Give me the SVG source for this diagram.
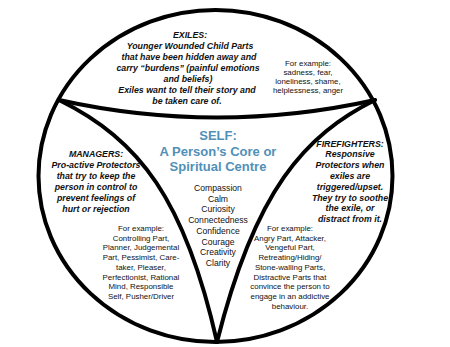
<svg xmlns="http://www.w3.org/2000/svg" width="450" height="347" viewBox="0 0 450 347">
<style>
text{font-family:"Liberation Sans",Arial,sans-serif;fill:#111;text-anchor:middle}
.h{font-size:8.8px;font-weight:bold;font-style:italic}
.r{font-size:7.9px}
.q{font-size:8.6px}
.s{font-size:13px;font-weight:bold;fill:#5190b7}
.ln{fill:none;stroke:#000;stroke-width:4;stroke-linecap:round;stroke-linejoin:round}
</style>
<rect width="450" height="347" fill="#fff"/>
<g id="connectors">
<ellipse class="ln" cx="215.5" cy="176" rx="177" ry="166"/>
<path class="ln" d="M59,100 Q217,135 375,100"/>
<path class="ln" d="M59,100 C140,140 185,200 217,342"/>
<path class="ln" d="M375,100 C305,135 255,190 217,342"/>
</g>
<g id="exiles">
<text class="h" x="190" y="38">EXILES:</text>
<text class="h" x="190" y="49">Younger Wounded Child Parts</text>
<text class="h" x="189" y="60">that have been hidden away and</text>
<text class="h" x="188" y="71">carry “burdens” (painful emotions</text>
<text class="h" x="188" y="82">and beliefs)</text>
<text class="h" x="187" y="93">Exiles want to tell their story and</text>
<text class="h" x="187" y="104">be taken care of.</text>
<text class="r" x="308" y="66">For example:</text>
<text class="r" x="308" y="75">sadness, fear,</text>
<text class="r" x="308" y="84">loneliness, shame,</text>
<text class="r" x="308" y="93">helplessness, anger</text>
</g>
<g id="managers">
<text class="h" x="96" y="157">MANAGERS:</text>
<text class="h" x="96" y="168">Pro-active Protectors</text>
<text class="h" x="96" y="179">that try to keep the</text>
<text class="h" x="96" y="190">person in control to</text>
<text class="h" x="96" y="201">prevent feelings of</text>
<text class="h" x="96" y="212">hurt or rejection</text>
<text class="r" x="141" y="231">For example:</text>
<text class="r" x="141" y="240.7">Controlling Part,</text>
<text class="r" x="141" y="250.4">Planner, Judgemental</text>
<text class="r" x="141" y="260.1">Part, Pessimist, Care-</text>
<text class="r" x="141" y="269.8">taker, Pleaser,</text>
<text class="r" x="141" y="279.5">Perfectionist, Rational</text>
<text class="r" x="141" y="289.2">Mind, Responsible</text>
<text class="r" x="141" y="298.9">Self, Pusher/Driver</text>
</g>
<g id="firefighters">
<text class="h" x="350" y="146.5">FIREFIGHTERS:</text>
<text class="h" x="350" y="157.3">Responsive</text>
<text class="h" x="350" y="168.1">Protectors when</text>
<text class="h" x="350" y="178.9">exiles are</text>
<text class="h" x="350" y="189.7">triggered/upset.</text>
<text class="h" x="350" y="200.5">They try to soothe</text>
<text class="h" x="350" y="211.3">the exile, or</text>
<text class="h" x="350" y="222.1">distract from it.</text>
<text class="r" x="290" y="231">For example:</text>
<text class="r" x="290" y="240.7">Angry Part, Attacker,</text>
<text class="r" x="290" y="250.4">Vengeful Part,</text>
<text class="r" x="290" y="260.1">Retreating/Hiding/</text>
<text class="r" x="290" y="269.8">Stone-walling Parts,</text>
<text class="r" x="290" y="279.5">Distractive Parts that</text>
<text class="r" x="290" y="289.2">convince the person to</text>
<text class="r" x="290" y="298.9">engage in an addictive</text>
<text class="r" x="290" y="308.6">behaviour.</text>
</g>
<g id="self">
<text class="s" x="218" y="140">SELF:</text>
<text class="s" x="218" y="156">A Person’s Core or</text>
<text class="s" x="218" y="171">Spiritual Centre</text>
<text class="q" x="218" y="191">Compassion</text>
<text class="q" x="218" y="201.7">Calm</text>
<text class="q" x="218" y="212.4">Curiosity</text>
<text class="q" x="218" y="223.1">Connectedness</text>
<text class="q" x="218" y="233.8">Confidence</text>
<text class="q" x="218" y="244.5">Courage</text>
<text class="q" x="218" y="255.2">Creativity</text>
<text class="q" x="218" y="265.9">Clarity</text>
</g>
</svg>
